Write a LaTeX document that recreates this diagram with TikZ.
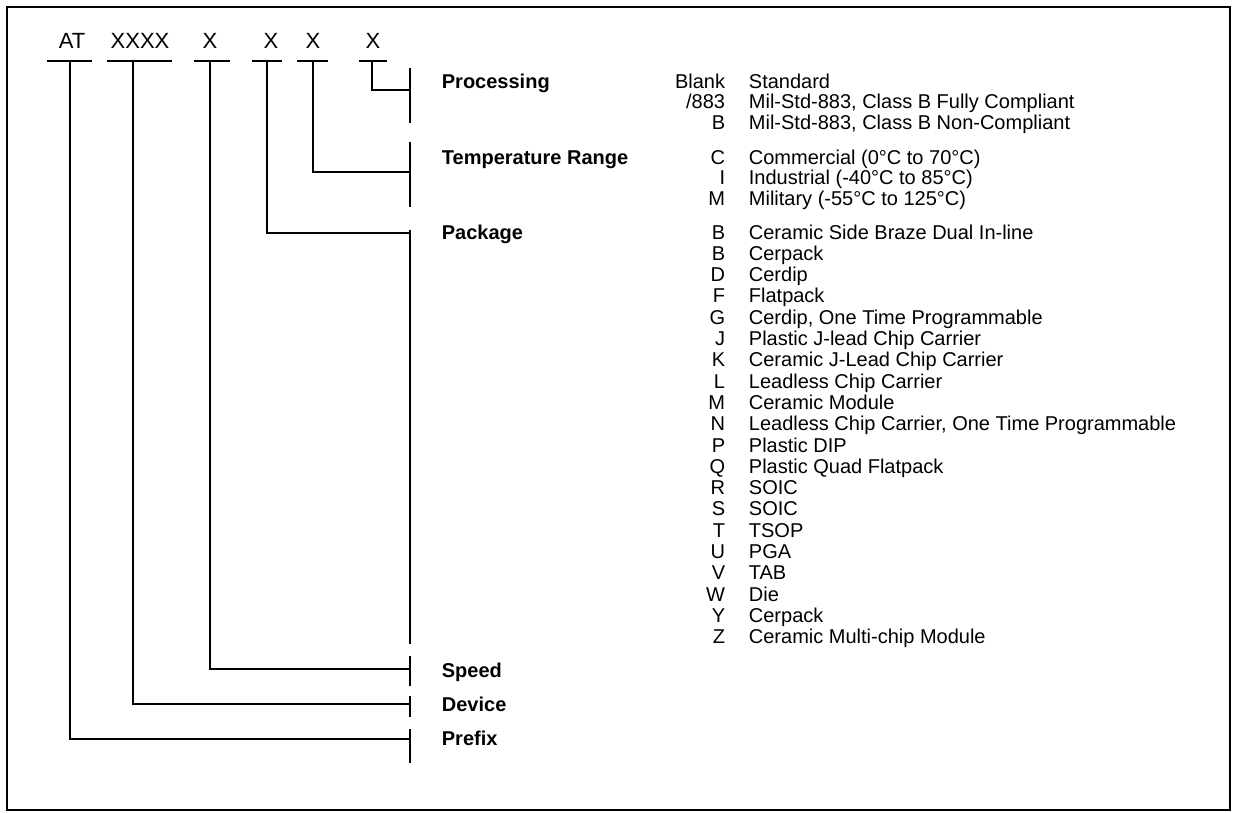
\documentclass[tikz,border=0pt]{standalone}
\usepackage{fontspec}
\setmainfont{Liberation Sans}
\begin{document}
\begin{tikzpicture}[x=1pt,y=-1pt,line width=1.8pt,
  code/.style={font=\fontsize{22}{24}\selectfont,anchor=base,inner sep=0pt},
  lab/.style={font=\fontsize{20}{22}\selectfont\bfseries,anchor=base west,inner sep=0pt},
  key/.style={font=\fontsize{20}{22}\selectfont,anchor=base east,inner sep=0pt},
  desc/.style={font=\fontsize{20}{22}\selectfont,anchor=base west,inner sep=0pt},
  wire/.style={line width=1.8pt}]
\useasboundingbox (0,0) rectangle (1236,812);
\draw[line width=2pt] (7,7) rectangle (1230,810);

% part-number codes
\node[code] (cAT)  at (72,48)  {AT};
\node[code] (cDev) at (140,48) {XXXX};
\node[code] (cSpd) at (210,48) {X};
\node[code] (cPkg) at (271,48) {X};
\node[code] (cTmp) at (313,48) {X};
\node[code] (cPrc) at (373,48) {X};

% underlines
\coordinate (uATl) at (47,61);  \coordinate (uATr) at (92,61);  \coordinate (sAT) at (70,61);
\coordinate (uDvl) at (107,61); \coordinate (uDvr) at (172,61); \coordinate (sDv) at (133,61);
\coordinate (uSpl) at (194,61); \coordinate (uSpr) at (230,61); \coordinate (sSp) at (210,61);
\coordinate (uPkl) at (252,61); \coordinate (uPkr) at (282,61); \coordinate (sPk) at (267,61);
\coordinate (uTml) at (297,61); \coordinate (uTmr) at (328,61); \coordinate (sTm) at (313,61);
\coordinate (uPrl) at (359,61); \coordinate (uPrr) at (387,61); \coordinate (sPr) at (372,61);
\foreach \a/\b in {uATl/uATr,uDvl/uDvr,uSpl/uSpr,uPkl/uPkr,uTml/uTmr,uPrl/uPrr}
  \draw[wire] (\a) -- (\b);

% bars
\coordinate (bPrT) at (410,68);  \coordinate (bPrB) at (410,123); \coordinate (bPr) at (410,90);
\coordinate (bTmT) at (410,142); \coordinate (bTmB) at (410,207); \coordinate (bTm) at (410,172);
\coordinate (bPkT) at (410,230); \coordinate (bPkB) at (410,644); \coordinate (bPk) at (410,233);
\coordinate (bSpT) at (410,656); \coordinate (bSpB) at (410,686); \coordinate (bSp) at (410,669);
\coordinate (bDvT) at (410,696); \coordinate (bDvB) at (410,717); \coordinate (bDv) at (410,704);
\coordinate (bATT) at (410,729); \coordinate (bATB) at (410,763); \coordinate (bAT) at (410,739);
\foreach \a/\b in {bPrT/bPrB,bTmT/bTmB,bPkT/bPkB,bSpT/bSpB,bDvT/bDvB,bATT/bATB}
  \draw[wire] (\a) -- (\b);

% connectors
\draw[wire] (sPr) |- (bPr);
\draw[wire] (sTm) |- (bTm);
\draw[wire] (sPk) |- (bPk);
\draw[wire] (sSp) |- (bSp);
\draw[wire] (sDv) |- (bDv);
\draw[wire] (sAT) |- (bAT);

% field labels
\node[lab] (lPr) at (441,88)  {Processing};
\node[lab] (lTm) at (441,164) {Temperature Range};
\node[lab] (lPk) at (441,239) {Package};
\node[lab] (lSp) at (441,677) {Speed};
\node[lab] (lDv) at (441,711) {Device};
\node[lab] (lAT) at (441,745) {Prefix};

% processing options
\node[key]  (pk0) at (726,88)    {Blank};
\node[desc] (pd0) at (748,88)    {Standard};
\node[key]  (pk1) at (726,108.6) {/883};
\node[desc] (pd1) at (748,108.6) {Mil-Std-883, Class B Fully Compliant};
\node[key]  (pk2) at (726,129.2) {B};
\node[desc] (pd2) at (748,129.2) {Mil-Std-883, Class B Non-Compliant};

% temperature options
\node[key]  (tk0) at (726,164)   {C};
\node[desc] (td0) at (748,164)   {Commercial (0°C to 70°C)};
\node[key]  (tk1) at (726,184.6) {I};
\node[desc] (td1) at (748,184.6) {Industrial (-40°C to 85°C)};
\node[key]  (tk2) at (726,205.2) {M};
\node[desc] (td2) at (748,205.2) {Military (-55°C to 125°C)};

% package options
\foreach \k/\d [count=\i from 0] in {B/{Ceramic Side Braze Dual In-line},B/Cerpack,D/Cerdip,F/Flatpack,
  G/{Cerdip, One Time Programmable},J/{Plastic J-lead Chip Carrier},K/{Ceramic J-Lead Chip Carrier},
  L/{Leadless Chip Carrier},M/{Ceramic Module},N/{Leadless Chip Carrier, One Time Programmable},
  P/{Plastic DIP},Q/{Plastic Quad Flatpack},R/SOIC,S/SOIC,T/TSOP,U/PGA,V/TAB,W/Die,Y/Cerpack,
  Z/{Ceramic Multi-chip Module}}{
  \node[key]  (kk\i) at (726,239+21.3*\i) {\k};
  \node[desc] (kd\i) at (748,239+21.3*\i) {\d};
}
\end{tikzpicture}
\end{document}
